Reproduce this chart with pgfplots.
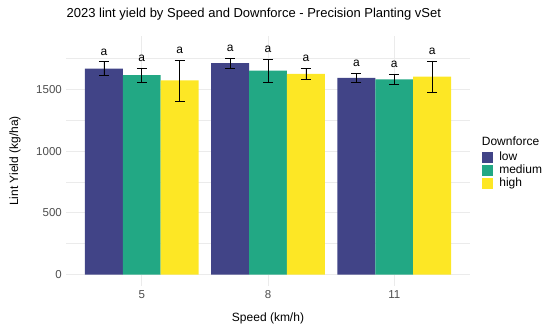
\documentclass[border=0pt]{standalone}
\usepackage{pgfplots}
\pgfplotsset{compat=1.18}
\usepackage{fontspec}
\setmainfont{Liberation Sans}
\definecolor{vlow}{HTML}{414487}
\definecolor{vmed}{HTML}{22A884}
\definecolor{vhigh}{HTML}{FDE725}
\definecolor{gridc}{HTML}{EBEBEB}
\definecolor{tickc}{HTML}{4D4D4D}
\newcommand{\fs}[1]{\fontsize{#1bp}{#1bp}\selectfont}
\begin{document}
\begin{tikzpicture}[x=1bp,y=1bp]
\useasboundingbox (0,0) rectangle (550,332);
\begin{axis}[
  at={(66bp,46bp)}, anchor=south west,
  scale only axis, width=404bp, height=250bp,
  xmin=0.4, xmax=3.6, ymin=-93, ymax=1932,
  axis line style={draw=none},
  major tick length=0pt, minor tick length=0pt,
  xtick={1,2,3}, xticklabels={5,8,11},
  ytick={0,500,1000,1500}, minor ytick={250,750,1250,1750},
  ymajorgrids, yminorgrids, xmajorgrids,
  major grid style={gridc, line width=1bp},
  minor grid style={gridc, line width=0.5bp},
  /pgf/number format/assume math mode=true,
  /pgf/number format/1000 sep={},
  tick label style={font=\fs{11.5}, color=tickc},
  yticklabel style={inner sep=0pt, xshift=-4bp},
  xticklabel style={inner sep=0pt, yshift=-4bp},
  title={2023 lint yield by Speed and Downforce - Precision Planting vSet},
  title style={at={(axis description cs:0.0012,1.064)}, anchor=west, inner sep=0pt, font=\fs{13}},
  xlabel={Speed (km/h)},
  xlabel style={at={(axis description cs:0.5,-0.128)}, anchor=center, inner sep=0pt, font=\fs{12}},
  ylabel={Lint Yield (kg/ha)},
  ylabel style={at={(axis description cs:-0.126,0.5)}, anchor=center, inner sep=0pt, font=\fs{12}},
  legend style={at={(1.029,0.54)}, anchor=north west, draw=none, fill=none,
    inner sep=0pt, outer sep=0pt, row sep=0pt, column sep=5.9bp, font=\fs{12},
    nodes={inner sep=0pt, text height=9bp, text depth=4bp}},
  legend cell align=left,
  legend image code/.code={\fill (0bp,-5.85bp) rectangle (11.7bp,5.85bp);},
  error bars/error bar style={line width=0.6bp, black},
  error bars/error mark options={rotate=90, mark size=5bp, line width=0.6bp, black},
]
\addplot[ybar, bar width=0.3, bar shift=0pt, fill=vlow, draw=none,
  error bars/.cd, y dir=both, y explicit]
  coordinates {(0.7,1668) +- (0,56) (1.7,1713) +- (0,42) (2.7,1593) +- (0,37)};
\addlegendentry{low}
\addplot[ybar, bar width=0.3, bar shift=0pt, fill=vmed, draw=none,
  error bars/.cd, y dir=both, y explicit]
  coordinates {(1,1616) +- (0,58) (2,1652) +- (0,93) (3,1581) +- (0,43)};
\addlegendentry{medium}
\addplot[ybar, bar width=0.3, bar shift=0pt, fill=vhigh, draw=none,
  error bars/.cd, y dir=both, y explicit]
  coordinates {(1.3,1572) +- (0,165) (2.3,1626) +- (0,43) (3.3,1603) +- (0,127)};
\addlegendentry{high}
\addplot[draw=none, mark=none, forget plot, nodes near coords={a},
  every node near coord/.style={anchor=base, inner sep=0pt, yshift=6.5bp, font=\fs{12}, black}]
  coordinates {(0.7,1724) (1,1674) (1.3,1737) (1.7,1755) (2,1745) (2.3,1669) (2.7,1630) (3,1624) (3.3,1730)};
\end{axis}
\node[anchor=west, inner sep=0pt, font=\fs{12}] at (481.7,190.3) {Downforce};
\end{tikzpicture}
\end{document}
